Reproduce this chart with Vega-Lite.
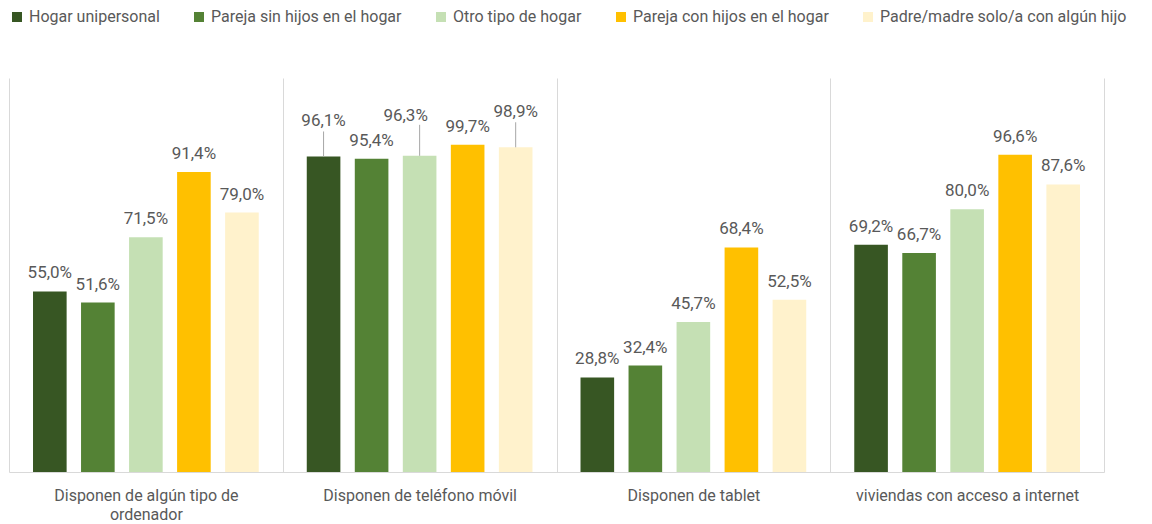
{
  "$schema": "https://vega.github.io/schema/vega-lite/v6.json",
  "width": 1095,
  "height": 394,
  "autosize": {"type": "none"},
  "padding": {"left": 9, "top": 78, "right": 48, "bottom": 52},
  "background": "white",
  "config": {
    "locale": {"number": {"decimal": ",", "thousands": ".", "grouping": [3], "currency": ["", " €"]}},
    "view": {"stroke": null},
    "font": "Roboto"
  },
  "data": {
    "values": [
      {"cat": "Disponen de algún tipo de ordenador", "tipo": "Hogar unipersonal", "v": 0.550},
      {"cat": "Disponen de algún tipo de ordenador", "tipo": "Pareja sin hijos en el hogar", "v": 0.516},
      {"cat": "Disponen de algún tipo de ordenador", "tipo": "Otro tipo de hogar", "v": 0.715},
      {"cat": "Disponen de algún tipo de ordenador", "tipo": "Pareja con hijos en el hogar", "v": 0.914},
      {"cat": "Disponen de algún tipo de ordenador", "tipo": "Padre/madre solo/a con algún hijo", "v": 0.790},
      {"cat": "Disponen de teléfono móvil", "tipo": "Hogar unipersonal", "v": 0.961},
      {"cat": "Disponen de teléfono móvil", "tipo": "Pareja sin hijos en el hogar", "v": 0.954},
      {"cat": "Disponen de teléfono móvil", "tipo": "Otro tipo de hogar", "v": 0.963},
      {"cat": "Disponen de teléfono móvil", "tipo": "Pareja con hijos en el hogar", "v": 0.997},
      {"cat": "Disponen de teléfono móvil", "tipo": "Padre/madre solo/a con algún hijo", "v": 0.989},
      {"cat": "Disponen de tablet", "tipo": "Hogar unipersonal", "v": 0.288},
      {"cat": "Disponen de tablet", "tipo": "Pareja sin hijos en el hogar", "v": 0.324},
      {"cat": "Disponen de tablet", "tipo": "Otro tipo de hogar", "v": 0.457},
      {"cat": "Disponen de tablet", "tipo": "Pareja con hijos en el hogar", "v": 0.684},
      {"cat": "Disponen de tablet", "tipo": "Padre/madre solo/a con algún hijo", "v": 0.525},
      {"cat": "viviendas con acceso a internet", "tipo": "Hogar unipersonal", "v": 0.692},
      {"cat": "viviendas con acceso a internet", "tipo": "Pareja sin hijos en el hogar", "v": 0.667},
      {"cat": "viviendas con acceso a internet", "tipo": "Otro tipo de hogar", "v": 0.800},
      {"cat": "viviendas con acceso a internet", "tipo": "Pareja con hijos en el hogar", "v": 0.966},
      {"cat": "viviendas con acceso a internet", "tipo": "Padre/madre solo/a con algún hijo", "v": 0.876}
    ]
  },
  "encoding": {
    "x": {
      "field": "cat", "type": "nominal", "sort": null,
      "scale": {"paddingInner": 0, "paddingOuter": 0},
      "axis": {
        "title": null, "labelAngle": 0, "grid": true, "gridColor": "#d9d9d9", "gridWidth": 1,
        "tickBand": "extent", "ticks": false, "domainColor": "#d9d9d9", "domainWidth": 1,
        "labelFontSize": 16, "labelColor": "#595959", "labelPadding": 15, "labelBaseline": "top",
        "labelLineHeight": 19, "labelLimit": 0,
        "labelExpr": "datum.value == 'Disponen de algún tipo de ordenador' ? ['Disponen de algún tipo de', 'ordenador'] : datum.value"
      }
    },
    "xOffset": {
      "field": "tipo", "type": "nominal",
      "sort": ["Hogar unipersonal", "Pareja sin hijos en el hogar", "Otro tipo de hogar", "Pareja con hijos en el hogar", "Padre/madre solo/a con algún hijo"],
      "scale": {"paddingInner": 0.3, "paddingOuter": 0.5}
    },
    "y": {"field": "v", "type": "quantitative", "scale": {"domain": [0, 1.2], "nice": false}, "axis": null}
  },
  "layer": [
    {
      "mark": {"type": "bar"},
      "encoding": {
        "color": {
          "field": "tipo", "type": "nominal",
          "scale": {
            "domain": ["Hogar unipersonal", "Pareja sin hijos en el hogar", "Otro tipo de hogar", "Pareja con hijos en el hogar", "Padre/madre solo/a con algún hijo"],
            "range": ["#375623", "#548235", "#c5e0b4", "#ffc000", "#fff2cc"]
          },
          "legend": {
            "orient": "none", "legendX": 0, "legendY": -69, "direction": "horizontal", "title": null,
            "symbolType": "square", "symbolSize": 100, "symbolStrokeWidth": 0,
            "labelFontSize": 16, "labelColor": "#595959", "columnPadding": 31, "labelOffset": 4,
            "labelLimit": 0
          }
        }
      }
    },
    {
      "transform": [{"filter": "!(datum.cat == 'Disponen de teléfono móvil' && (datum.tipo == 'Hogar unipersonal' || datum.tipo == 'Otro tipo de hogar' || datum.tipo == 'Padre/madre solo/a con algún hijo'))"}],
      "mark": {"type": "text", "baseline": "alphabetic", "dy": -13, "fontSize": 17, "color": "#595959"},
      "encoding": {"text": {"field": "v", "type": "quantitative", "format": ".1%"}}
    },
    {
      "transform": [{"filter": "datum.cat == 'Disponen de teléfono móvil' && (datum.tipo == 'Hogar unipersonal' || datum.tipo == 'Padre/madre solo/a con algún hijo')"}],
      "mark": {"type": "text", "baseline": "alphabetic", "dy": -30, "fontSize": 17, "color": "#595959"},
      "encoding": {"text": {"field": "v", "type": "quantitative", "format": ".1%"}}
    },
    {
      "transform": [{"filter": "datum.cat == 'Disponen de teléfono móvil' && (datum.tipo == 'Hogar unipersonal' || datum.tipo == 'Padre/madre solo/a con algún hijo')"}],
      "mark": {"type": "rule", "color": "#a6a6a6", "strokeWidth": 1, "y2Offset": -25},
      "encoding": {"y2": {"field": "v"}}
    },
    {
      "transform": [{"filter": "datum.cat == 'Disponen de teléfono móvil' && datum.tipo == 'Otro tipo de hogar'"}],
      "mark": {"type": "text", "baseline": "alphabetic", "dy": -35, "dx": -14, "fontSize": 17, "color": "#595959"},
      "encoding": {"text": {"field": "v", "type": "quantitative", "format": ".1%"}}
    },
    {
      "transform": [{"filter": "datum.cat == 'Disponen de teléfono móvil' && datum.tipo == 'Otro tipo de hogar'"}],
      "mark": {"type": "rule", "color": "#a6a6a6", "strokeWidth": 1, "xOffset": -3, "y2Offset": -31},
      "encoding": {"y2": {"field": "v"}}
    }
  ]
}
